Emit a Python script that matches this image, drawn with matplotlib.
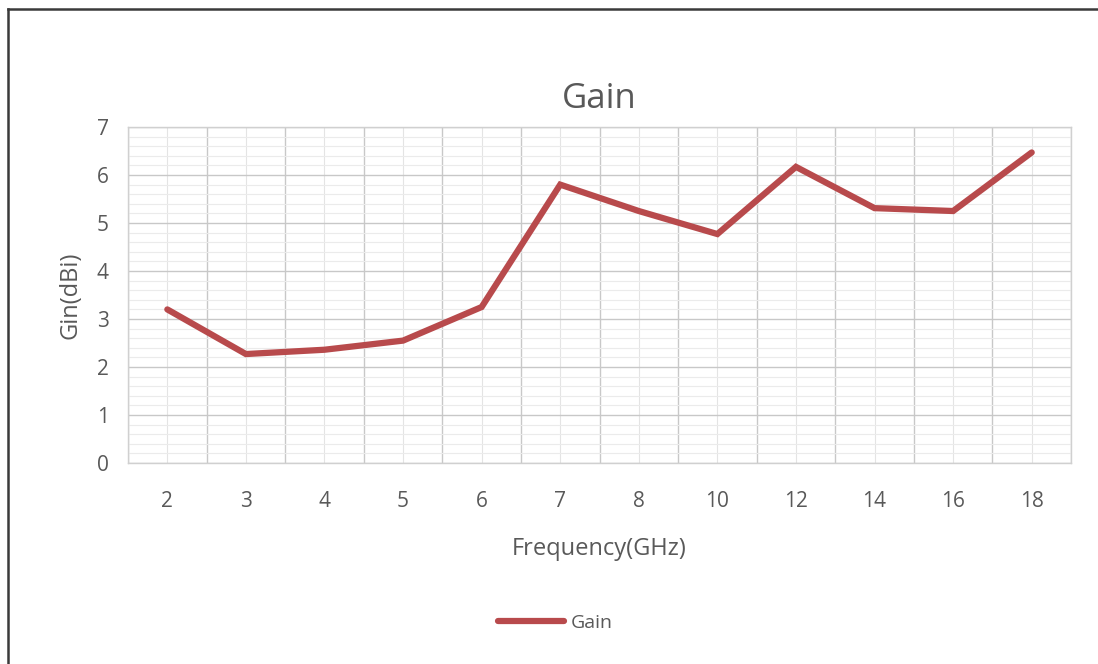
import numpy as np
import matplotlib
matplotlib.use('Agg')
from matplotlib import pyplot as plt
from matplotlib.lines import Line2D

freq_labels = ['2', '3', '4', '5', '6', '7', '8', '10', '12', '14', '16', '18']
gain = [3.2, 2.27, 2.36, 2.55, 3.25, 5.8, 5.25, 4.77, 6.17, 5.31, 5.25, 6.47]

plt.rcParams['font.family'] = ['Open Sans', 'DejaVu Sans']
txt = '#595959'
line_c = '#b84a4c'

fig = plt.figure(figsize=(10.98, 6.64), dpi=100)
ax = fig.add_axes([0.1166, 0.3027, 0.8588, 0.506])

x = np.arange(len(freq_labels))
ax.plot(x, gain, color=line_c, lw=4.5, solid_capstyle='round', solid_joinstyle='miter', label='Gain', zorder=3)

ax.set_xlim(-0.5, len(freq_labels) - 0.5)
ax.set_ylim(0, 7)
ax.set_xticks(x)
ax.set_xticklabels(freq_labels)
ax.set_xticks(np.arange(-0.5, len(freq_labels), 1), minor=True)
ax.set_yticks(np.arange(0, 8, 1))
ax.set_yticks(np.arange(0, 7.01, 0.2), minor=True)
ax.tick_params(which='both', length=0, colors=txt, labelsize=15)
ax.tick_params(axis='x', pad=20)
ax.tick_params(axis='y', pad=14)

ax.grid(False)
ax.xaxis.grid(True, which='minor', color='#c8c8c8', lw=1.0)
ax.xaxis.grid(True, which='major', color='#e4e4e4', lw=0.8)
ax.yaxis.grid(True, which='major', color='#c8c8c8', lw=1.0)
ax.yaxis.grid(True, which='minor', color='#ebebeb', lw=0.8)
ax.set_axisbelow(True)
for s in ax.spines.values():
    s.set_color('#d0d0d0')
    s.set_linewidth(1.0)

ax.set_title('Gain', color=txt, fontsize=25, pad=14)
ax.set_xlabel('Frequency(GHz)', color=txt, fontsize=17, labelpad=18)
ax.set_ylabel('Gin(dBi)', color=txt, fontsize=17, labelpad=10)

leg = fig.legend(loc='center', bbox_to_anchor=(0.506, 0.062), frameon=False,
                 fontsize=14, handlelength=3.4, handletextpad=0.35)
for t in leg.get_texts():
    t.set_color(txt)

# outer frame (top and left edges visible)
fig.add_artist(Line2D([0.0073, 1.0], [0.9864, 0.9864], transform=fig.transFigure, color='#3a3a3a', lw=1.8))
fig.add_artist(Line2D([0.0073, 0.0073], [0.0, 0.9864], transform=fig.transFigure, color='#3a3a3a', lw=1.8))

fig.savefig('out.png', dpi=100)
